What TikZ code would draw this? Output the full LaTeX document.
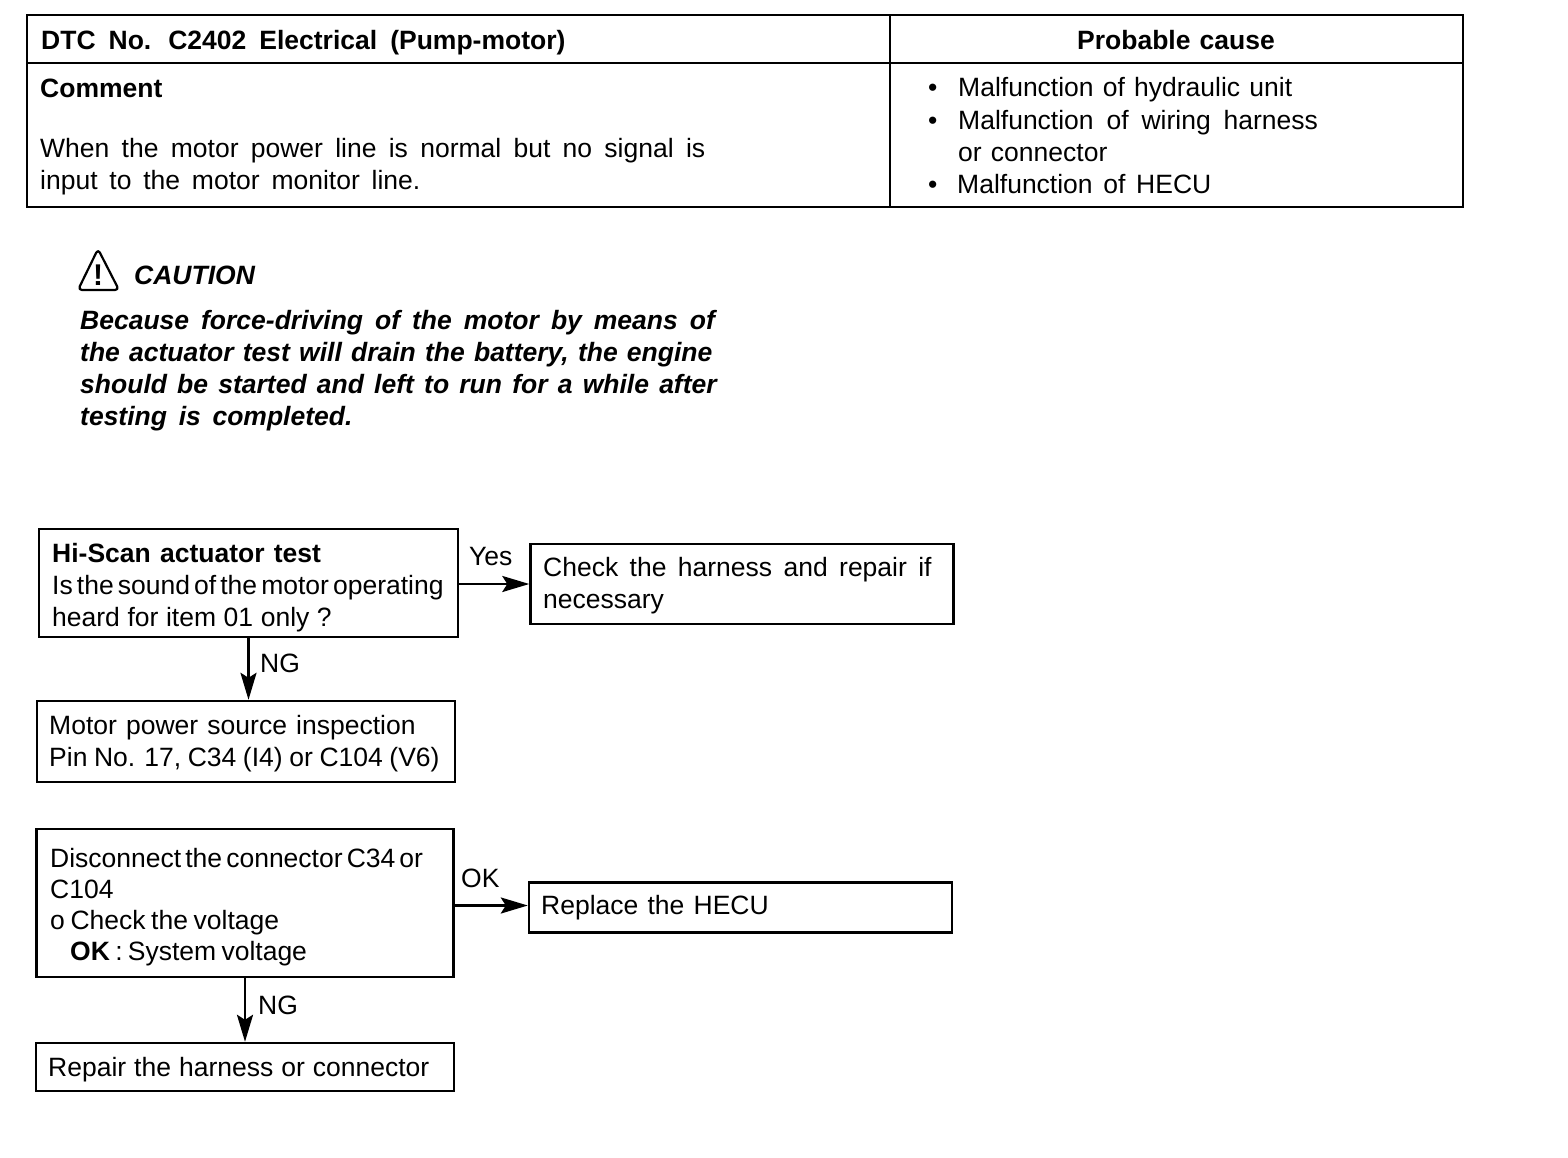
\documentclass[tikz,border=0pt]{standalone}
\usepackage{fontspec}
\setmainfont{Liberation Sans}
\usetikzlibrary{arrows.meta,positioning}
\tikzset{
  rulebox/.style={draw=black,line width=2.2pt},
  stepbox/.style={draw=black,line width=2.4pt,inner sep=0pt},
  txt/.style={inner sep=0pt,anchor=base west,font=\fontsize{26.5}{26.5}\selectfont,wordgap=9.2},
  wordgap/.style={execute at begin node={\spaceskip=#1pt\relax}},
  flowarrow/.style={draw=black,line width=2.8pt,-{Stealth[length=27pt,width=16pt,inset=5pt]}}
}
\begin{document}
\begin{tikzpicture}[x=1pt,y=-1pt]
\useasboundingbox (0,0) rectangle (1568,1158);
% table
\draw [rulebox] (27,15) rectangle (1463,207);
\draw [rulebox] (27,63) -- (1463,63);
\draw [rulebox] (890,15) -- (890,207);
\node [txt,wordgap=13] at (41,50) {\textbf{DTC No.\hspace{17pt}C2402 Electrical (Pump-motor)}};
\node [txt,anchor=base] at (1176,50) {\textbf{Probable cause}};
\node [txt] at (40,98) {\textbf{Comment}};
\node [txt,wordgap=12.3] at (40,158) {When the motor power line is normal but no signal is};
\node [txt,wordgap=11.8] at (40,190) {input to the motor monitor line.};
\node [txt] at (928,97) {•};
\node [txt] at (958,97) {Malfunction of hydraulic unit};
\node [txt] at (928,130) {•};
\node [txt,wordgap=12.9] at (958,130) {Malfunction of wiring harness};
\node [txt] at (958,162) {or connector};
\node [txt] at (928,194) {•};
\node [txt,wordgap=10.7] at (957,194) {Malfunction of HECU};
% caution
\draw [line width=2.2pt,line join=round,rounded corners=4pt] (98,249) -- (119,290) -- (78,290) -- cycle;
\node [txt,anchor=base,font=\fontsize{30}{30}\selectfont] at (98,285) {\textbf{!}};
\node [txt] at (134,284) {\textbf{\textit{CAUTION}}};
\node [txt,wordgap=12] at (80,329) {\textbf{\textit{Because force-driving of the motor by means of}}};
\node [txt] at (80,361) {\textbf{\textit{the actuator test will drain the battery, the engine}}};
\node [txt,wordgap=10.2] at (80,393) {\textbf{\textit{should be started and left to run for a while after}}};
\node [txt,wordgap=11.7] at (80,425) {\textbf{\textit{testing is completed.}}};
% flow boxes
\node [stepbox,minimum width=419pt,minimum height=108pt] (scan) at (248.5,583) {};
\node [stepbox,minimum width=423pt,minimum height=80pt] (harness) at (742,584) {};
\node [stepbox,minimum width=418pt,minimum height=81pt] (power) at (246,741.5) {};
\node [stepbox,minimum width=417pt,minimum height=148pt] (disc) at (245,903) {};
\node [stepbox,minimum width=423pt,minimum height=50pt] (hecu) at (740.5,907.5) {};
\node [stepbox,minimum width=418pt,minimum height=48pt] (repair) at (245,1067) {};
\draw [flowarrow] (scan.east |- harness.west) -- (harness.west);
\draw [flowarrow] (scan.south) -- (scan.south |- power.north);
\draw [flowarrow] ([yshift=2pt]disc.east |- hecu.west) -- ([yshift=2pt]hecu.west);
\draw [flowarrow] (disc.south) -- (repair.north);
\node [txt] at (52,562) {\textbf{Hi-Scan actuator test}};
\node [txt,wordgap=4.1] at (52,594) {Is the sound of the motor operating};
\node [txt,wordgap=7.6] at (52,626) {heard for item 01 only ?};
\node [txt,wordgap=11.4] at (543,576) {Check the harness and repair if};
\node [txt] at (543,608) {necessary};
\node [txt] at (49,734) {Motor power source inspection};
\node [txt,wordgap=6.6] at (49,766) {Pin No. 17, C34 (I4) or C104 (V6)};
\node [txt,wordgap=4.1] at (50,867) {Disconnect the connector C34 or};
\node [txt] at (50,898) {C104};
\node [txt,wordgap=5.6] at (50,929) {o Check the voltage};
\node [txt,wordgap=5.3] at (70,960) {\textbf{OK} : System voltage};
\node [txt] at (541,914) {Replace the HECU};
\node [txt,wordgap=8] at (48,1076) {Repair the harness or connector};
\node [txt] at (469,565) {Yes};
\node [txt] at (260,672) {NG};
\node [txt] at (461,887) {OK};
\node [txt] at (258,1014) {NG};
\end{tikzpicture}
\end{document}
